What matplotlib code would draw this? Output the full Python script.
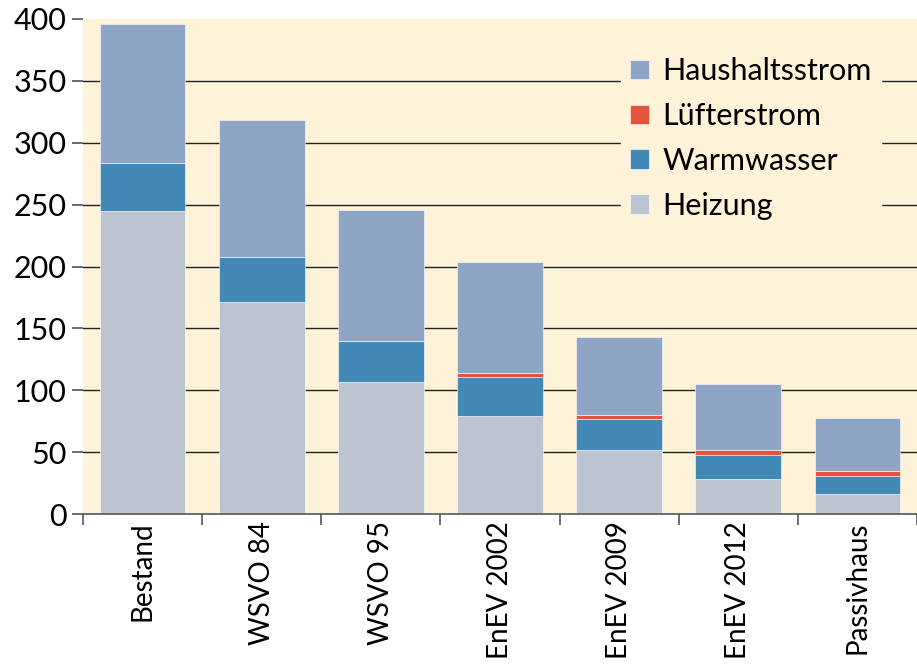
import matplotlib
matplotlib.use("Agg")
import matplotlib.pyplot as plt
import numpy as np

plt.rcParams["font.family"] = ["Lato", "DejaVu Sans"]

categories = ["Bestand", "WSVO 84", "WSVO 95", "EnEV 2002", "EnEV 2009", "EnEV 2012", "Passivhaus"]
heizung = [245, 171, 107, 79, 52, 28, 16]
warmwasser = [39, 37, 33, 32, 25, 20, 15]
luefterstrom = [0, 0, 0, 3, 3, 4, 4]
haushaltsstrom = [112, 110, 106, 90, 63, 53, 43]
yticks = [0, 50, 100, 150, 200, 250, 300, 350, 400]

COL = {
    "bg": "#FEF2D8",
    "heiz": "#BCC4CF",
    "ww": "#4289B8",
    "luft": "#E5533A",
    "haus": "#8FA5C5",
}

fig = plt.figure(figsize=(9.17, 6.66), dpi=100)
ax = fig.add_axes([0.0905, 0.228, 0.9095, 0.7435])
ax.set_facecolor(COL["bg"])

x = np.arange(len(categories))
w = 0.72
bottom = np.zeros(len(categories))
series = [
    (heizung, COL["heiz"], "Heizung"),
    (warmwasser, COL["ww"], "Warmwasser"),
    (luefterstrom, COL["luft"], "Lüfterstrom"),
    (haushaltsstrom, COL["haus"], "Haushaltsstrom"),
]
handles = {}
for vals, c, lab in series:
    v = np.array(vals, dtype=float)
    b = ax.bar(x, v, w, bottom=bottom, color=c, edgecolor="#FFFFFF", linewidth=0.4,
               label=lab, zorder=2)
    handles[lab] = b
    bottom += v

ax.set_xlim(-0.5, len(categories) - 0.5)
ax.set_ylim(0, 400)
ax.set_yticks(yticks)
# grid lines only between the axis and the top (no line at 400)
for yv in yticks[1:-1]:
    ax.axhline(yv, color="#222222", linewidth=1.0, zorder=1)
ax.tick_params(axis="y", length=8, width=1.2, color="#555555", labelsize=22, pad=4)

ax.set_xticks(x)
ax.set_xticklabels(categories, rotation=90, fontsize=20)
ax.tick_params(axis="x", which="major", length=0, pad=5)
ax.set_xticks(np.arange(-0.5, len(categories), 1.0), minor=True)
ax.tick_params(axis="x", which="minor", length=8, width=1.2, color="#555555")

for s in ["top", "right", "left"]:
    ax.spines[s].set_visible(False)
ax.spines["bottom"].set_color("#555555")
ax.spines["bottom"].set_linewidth(1.2)

order = ["Haushaltsstrom", "Lüfterstrom", "Warmwasser", "Heizung"]
leg = ax.legend([handles[k] for k in order], order, loc="upper right",
                bbox_to_anchor=(0.975, 0.972), fontsize=22, frameon=True,
                facecolor=COL["bg"], edgecolor=COL["bg"], framealpha=1.0,
                handlelength=0.6, handleheight=0.6, handletextpad=0.45,
                labelspacing=0.55, borderpad=0.3, fancybox=False)
leg.set_zorder(5)

fig.savefig("out.png", dpi=100, facecolor="white")
